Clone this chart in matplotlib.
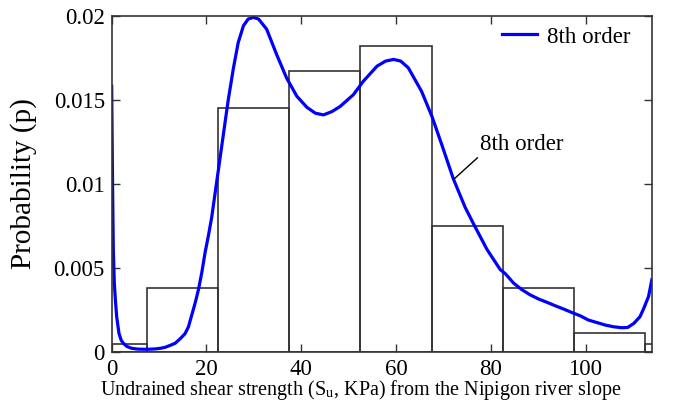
import matplotlib
matplotlib.use("Agg")
import matplotlib.pyplot as plt

plt.rcParams['font.family'] = ['Liberation Serif', 'DejaVu Serif']
plt.rcParams['mathtext.fontset'] = 'stix'

# Histogram of undrained shear strength (bin centres, KPa) and probabilities
bin_centers = [0, 15, 30, 45, 60, 75, 90, 105, 120]
bin_probs = [0.0005, 0.0038, 0.0145, 0.0167, 0.0182, 0.0075, 0.0038, 0.0011, 0.0005]
bin_width = 15

# 8th order polynomial fit, sampled along the strength axis
fit_x = [0, 0.1, 0.2, 0.34, 0.55, 0.8, 1.05, 1.54, 2.0, 2.45, 3.2, 4.2, 5.5, 7.5,
         9.1, 10.3, 11.3, 12.4, 13.4, 14.5, 15.5, 16.2, 16.8, 17.6, 18.3, 19.0,
         19.7, 20.4, 21.1, 22.2, 23.6, 24.6, 25.7, 26.7, 27.8, 28.8, 29.9, 31,
         32.7, 34.8, 36.9, 39.1, 41.2, 43, 44.7, 46.5, 48.2, 51, 53.1, 56, 57.8,
         59.5, 61, 62.6, 65.4, 67.6, 69.7, 72.1, 74.6, 76.4, 79.2, 82, 83.1, 84.8,
         86.6, 88.3, 90.1, 91.9, 93.6, 95.4, 97.1, 98.9, 100.6, 102.4, 104.2,
         105.9, 107.7, 108.9, 110.2, 111.5, 112.3, 113.3, 114]
fit_y = [0.0158, 0.0125, 0.0095, 0.0061, 0.0041, 0.0030, 0.0021, 0.0011, 0.0007,
         0.00052, 0.00033, 0.00022, 0.00017, 0.00016, 0.00018, 0.00022, 0.00028,
         0.0004, 0.00052, 0.0008, 0.0011, 0.0015, 0.0021, 0.0029, 0.0037, 0.0047,
         0.0059, 0.0069, 0.0080, 0.0102, 0.0130, 0.0150, 0.0169, 0.0184, 0.0194,
         0.0198, 0.0199, 0.0198, 0.0192, 0.0177, 0.0163, 0.0152, 0.01455, 0.0142,
         0.0141, 0.0143, 0.0146, 0.0153, 0.0161, 0.0170, 0.0173, 0.0174, 0.0173,
         0.0169, 0.0155, 0.0140, 0.0123, 0.0103, 0.0086, 0.0076, 0.0061, 0.0049,
         0.00465, 0.0041, 0.0037, 0.0034, 0.00315, 0.00295, 0.00275, 0.00255,
         0.00235, 0.00215, 0.0019, 0.00175, 0.0016, 0.0015, 0.00144, 0.00146,
         0.0017, 0.0021, 0.0026, 0.0033, 0.0043]

x_ticks = [0, 20, 40, 60, 80, 100]
y_ticks = [0, 0.005, 0.01, 0.015, 0.02]
y_tick_labels = ['0', '0.005', '0.01', '0.015', '0.02']

fig = plt.figure(figsize=(6.84, 4.11), dpi=100)
ax = fig.add_axes([0.1633, 0.1436, 0.7904, 0.8182])

edge = '#333333'
ax.bar(bin_centers, bin_probs, width=bin_width, fill=False,
       edgecolor=edge, linewidth=1.2, align='center')
ax.plot(fit_x, fit_y, color='#0000ff', linewidth=2.3, label='8th order',
        solid_joinstyle='round')

ax.annotate('8th order', xy=(72.3, 0.0103), xytext=(77.8, 0.0120),
            fontsize=16.5, ha='left', va='baseline',
            arrowprops=dict(arrowstyle='-', color='black', lw=1,
                            relpos=(0, 0), shrinkA=0, shrinkB=0))

ax.set_xlim(0, 114.1)
ax.set_ylim(0, 0.02)
ax.set_xticks(x_ticks)
ax.set_yticks(y_ticks)
ax.set_yticklabels(y_tick_labels)
ax.tick_params(direction='in', length=6, width=1, top=True, right=True,
               labelsize=16.5, color=edge, pad=5)
for s in ax.spines.values():
    s.set_color(edge)
    s.set_linewidth(1.2)

ax.set_xlabel(r'Undrained shear strength (S$_{\mathregular{u}}$, KPa) from the Nipigon river slope',
              fontsize=14.5)
ax.xaxis.set_label_coords(0.461, -0.077)
ax.set_ylabel('Probability (p)', fontsize=21, labelpad=12)

leg = ax.legend(loc='center right', bbox_to_anchor=(0.9588, 0.9367),
                frameon=False, fontsize=16.5, handlelength=1.55,
                handletextpad=0.4, borderpad=0, borderaxespad=0)

fig.savefig('out.png', dpi=100)
